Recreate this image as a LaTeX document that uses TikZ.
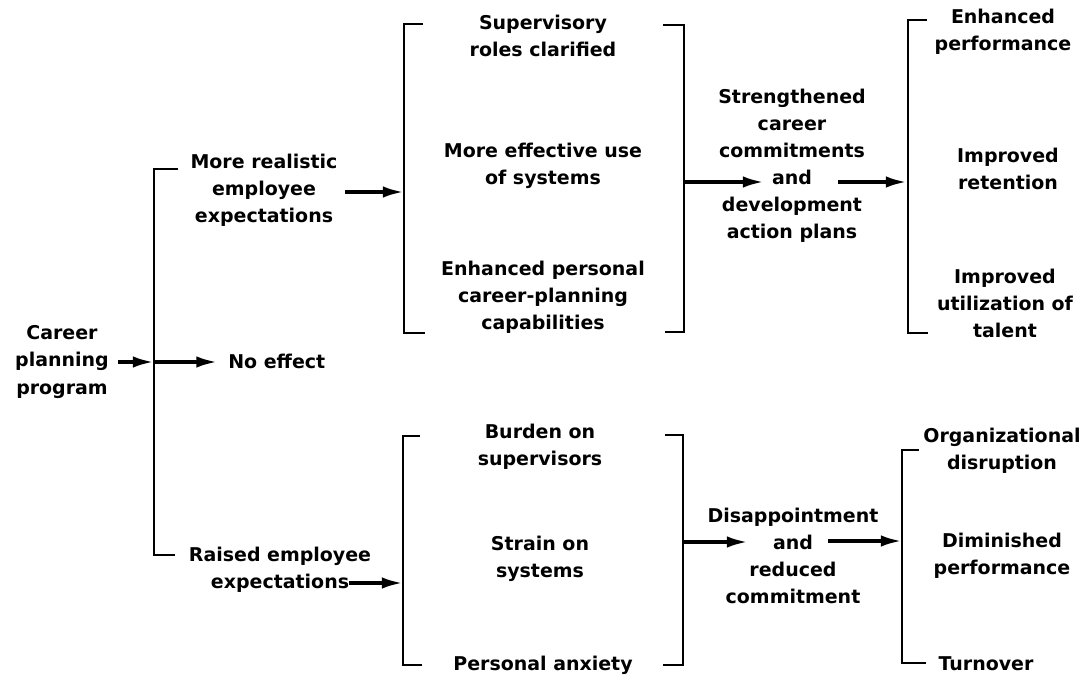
\documentclass[tikz,border=0pt]{standalone}
\usepackage{fontspec}
\setmainfont{DejaVu Sans}
\usetikzlibrary{arrows.meta}
\usetikzlibrary{positioning}

\begin{document}
\begin{tikzpicture}[x=0.02cm, y=-0.02cm,
    txt/.style={align=center, inner sep=0pt, font=\bfseries\fontsize{10.8}{15.4}\selectfont},
    bracket/.style={line width=1.5pt},
    flow/.style={-{Latex[length=12pt,width=6.5pt]}, line width=2pt}]

    % 0. Fix the size of the page
    \useasboundingbox (0,0) rectangle (1090,679);

    % 1. The program and the three first branches
    \node[txt] (program) at (62,362) {Career\\planning\\program};
    \node[txt] (realistic) at (264,190) {More realistic\\employee\\expectations};
    \node[txt, anchor=west] (noeffect) at (228,361) {No effect};
    \node[txt] (raised) at (280,570) {Raised employee\\expectations};

    % 2. The trunk that splits the program into branches
    \coordinate (trunktop) at (154,169);
    \coordinate (trunkmid) at (154,362);
    \coordinate (trunkbot) at (154,555);
    \draw[bracket] (178,169) -- (trunktop) -- (trunkbot) -- (175,555);
    \draw[flow, shorten <=5pt] (program.east |- trunkmid) -- (trunkmid);
    \draw[flow, shorten >=6pt] (trunkmid) -- (noeffect.west |- trunkmid);

    % 3. The brackets round the middle and right columns
    \foreach \x/\ya/\yb/\la/\lb in {404/24/333/19/21, 684/25/332/-21/-19,
                                     908/20/333/19/20, 403/436/665/17/19,
                                     683/435/665/-18/-20, 902/450/663/17/24} {
        \draw[bracket] (\x+\la,\ya) -- (\x,\ya) -- (\x,\yb) -- (\x+\lb,\yb);
    }

    % 4. Upper path: realistic expectations
    \node[txt] (roles) at (543,36) {Supervisory\\roles clarified};
    \node[txt] (systems) at (543,166) {More effective use\\of systems};
    \node[txt] (capab) at (543,297) {Enhanced personal\\career-planning\\capabilities};
    \node[txt] (commit) at (792,166) {Strengthened\\career\\commitments\\and\\development\\action plans};
    \node[txt] (perf) at (1003,32) {Enhanced\\performance};
    \node[txt] (retent) at (1008,169) {Improved\\retention};
    \node[txt] (talent) at (1005,303) {Improved\\utilization of\\talent};

    \coordinate (upin) at (404,192);
    \coordinate (upout) at (684,182);
    \coordinate (upand) at (764,182);
    \coordinate (upandr) at (838,182);
    \coordinate (upend) at (907,182);
    \draw[flow, shorten <=4pt] (realistic.east |- upin) -- (upin);
    \draw[flow] (upout) -- (upand);
    \draw[flow] (upandr) -- (upend);

    % 5. Lower path: raised expectations
    \node[txt] (burden) at (540,447) {Burden on\\supervisors};
    \node[txt] (strain) at (540,559) {Strain on\\systems};
    \node[txt] (anxiety) at (543,665) {Personal anxiety};
    \node[txt] (disapp) at (793,556) {Disappointment\\and\\reduced\\commitment};
    \node[txt] (disrupt) at (1002,451) {Organizational\\disruption};
    \node[txt] (diminish) at (1002,556) {Diminished\\performance};
    \node[txt] (turnover) at (986,664) {Turnover};

    \coordinate (raisedend) at (349,583);
    \coordinate (lowin) at (403,583);
    \coordinate (lowout) at (683,542);
    \coordinate (lowand) at (748,542);
    \coordinate (lowandr) at (828,541);
    \coordinate (lowend) at (902,541);
    \draw[flow] (raisedend) -- (lowin);
    \draw[flow] (lowout) -- (lowand);
    \draw[flow] (lowandr) -- (lowend);

\end{tikzpicture}
\end{document}
